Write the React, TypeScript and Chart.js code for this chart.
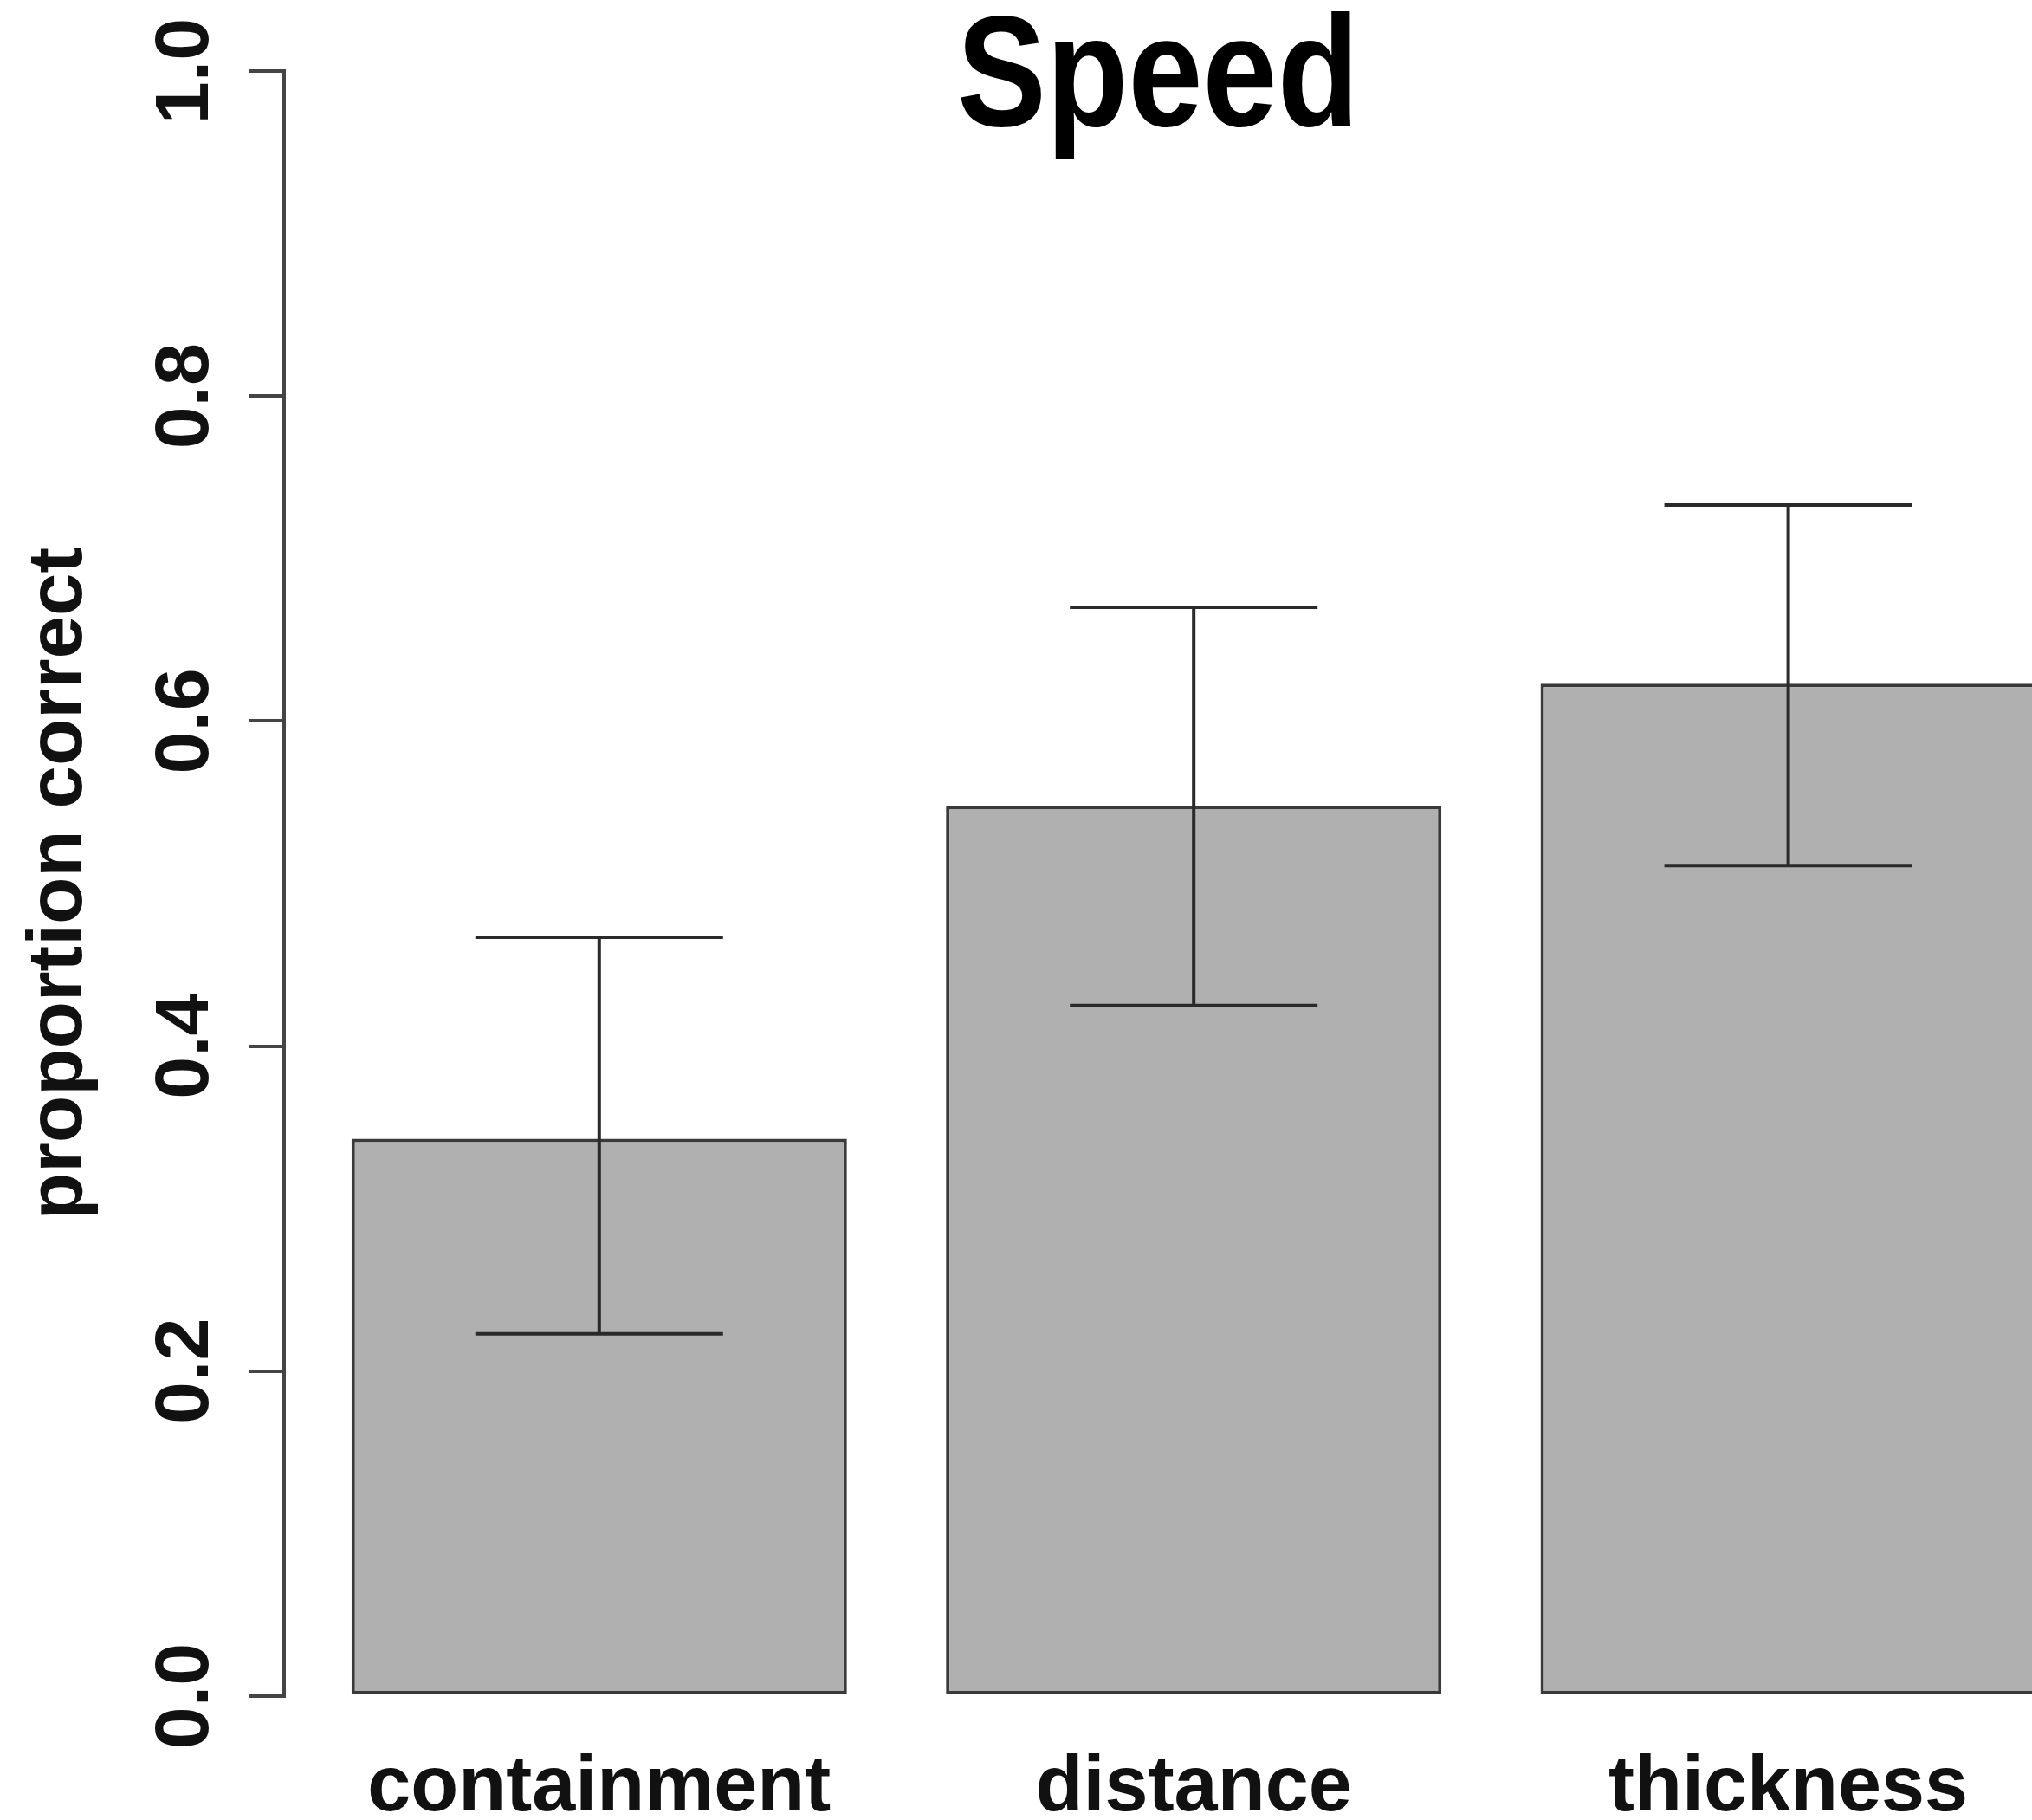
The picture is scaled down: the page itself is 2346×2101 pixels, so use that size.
import React, { useEffect, useRef } from "react";
import { Chart, registerables } from "chart.js";

Chart.register(...registerables);

// ---- data ----
const categories = ["containment", "distance", "thickness"];
const proportionCorrect = [0.343, 0.548, 0.623];
const errorLow = [0.223, 0.425, 0.511];
const errorHigh = [0.467, 0.67, 0.733];
const yTickValues = [0, 0.2, 0.4, 0.6, 0.8, 1.0];
const yTickLabels = ["0.0", "0.2", "0.4", "0.6", "0.8", "1.0"];
const chartTitle = "Speed";
const yAxisTitle = "proportion correct";

// R barplot geometry (width 1, space 0.2)
const BAR_SPACE = 0.2;
const BAR_WIDTH = 1;
const barCenters = categories.map((_, i) => BAR_SPACE + BAR_WIDTH / 2 + i * (BAR_SPACE + BAR_WIDTH));

const FONT = "'Liberation Sans', Arial, Helvetica, sans-serif";

const W = 2346;
const H = 2101;

const customPlugin = {
  id: "rStyleExtras",
  afterDatasetsDraw(chart: any) {
    const { ctx, scales } = chart;
    const xs = scales.x;
    const ys = scales.y;
    ctx.save();
    ctx.strokeStyle = "#2a2a2a";
    ctx.lineWidth = 4;
    ctx.lineCap = "butt";
    for (let i = 0; i < categories.length; i++) {
      const cx = xs.getPixelForValue(barCenters[i]);
      const half = xs.getPixelForValue(barCenters[i] + 0.25) - cx;
      const yl = ys.getPixelForValue(errorLow[i]);
      const yh = ys.getPixelForValue(errorHigh[i]);
      ctx.beginPath();
      ctx.moveTo(cx, yl);
      ctx.lineTo(cx, yh);
      ctx.moveTo(cx - half, yh);
      ctx.lineTo(cx + half, yh);
      ctx.moveTo(cx - half, yl);
      ctx.lineTo(cx + half, yl);
      ctx.stroke();
    }
    ctx.restore();
  },
  afterDraw(chart: any) {
    const { ctx, scales, chartArea } = chart;
    const ys = scales.y;
    ctx.save();
    // rotated y tick labels (R style, parallel to axis)
    ctx.fillStyle = "#111";
    ctx.font = `bold 88px ${FONT}`;
    ctx.textAlign = "center";
    ctx.textBaseline = "alphabetic";
    for (let i = 0; i < yTickValues.length; i++) {
      const y = ys.getPixelForValue(yTickValues[i]);
      ctx.save();
      ctx.translate(240, y);
      ctx.rotate(-Math.PI / 2);
      ctx.fillText(yTickLabels[i], 0, 0);
      ctx.restore();
    }
    // main title (condensed bold)
    ctx.fillStyle = "#000";
    ctx.font = `bold 182px ${FONT}`;
    ctx.textAlign = "center";
    ctx.textBaseline = "alphabetic";
    ctx.translate((chartArea.left + chartArea.right) / 2, 145);
    ctx.scale(0.85, 1);
    ctx.fillText(chartTitle, 0, 0);
    ctx.restore();
  },
};

export default function App() {
  const canvasRef = useRef<HTMLCanvasElement | null>(null);

  useEffect(() => {
    document.body.style.margin = "0";
    document.body.style.overflow = "hidden";
    const canvas = canvasRef.current;
    if (!canvas) return;
    const chart = new Chart(canvas, {
      type: "bar",
      data: {
        datasets: [
          {
            label: "proportion correct",
            data: categories.map((_, i) => ({ x: barCenters[i], y: proportionCorrect[i] })),
            backgroundColor: "#b0b0b0",
            borderColor: "#3a3a3a",
            borderWidth: 4,
            borderSkipped: false,
            categoryPercentage: 1,
            barPercentage: BAR_WIDTH / (BAR_WIDTH + BAR_SPACE),
          },
        ],
      },
      options: {
        responsive: false,
        animation: false,
        devicePixelRatio: 1,
        layout: { padding: { top: 82, left: 0, right: 0, bottom: 0 } },
        plugins: {
          legend: { display: false },
          tooltip: { enabled: false },
          title: { display: false },
        },
        scales: {
          x: {
            type: "linear",
            offset: false,
            min: 0.064,
            max: 3.592,
            grid: { display: false, drawTicks: false, offset: false },
            border: { display: false },
            afterBuildTicks: (scale: any) => {
              scale.ticks = barCenters.map((v) => ({ value: v }));
            },
            afterFit: (scale: any) => {
              scale.height = 143;
            },
            ticks: {
              autoSkip: false,
              maxRotation: 0,
              minRotation: 0,
              padding: 53,
              color: "#111",
              font: { family: FONT, size: 90, weight: "bold", lineHeight: 1.2 },
              callback: (_v: any, index: number) => categories[index],
            },
          },
          y: {
            type: "linear",
            min: 0,
            max: 1,
            afterBuildTicks: (scale: any) => {
              scale.ticks = yTickValues.map((v) => ({ value: v }));
            },
            afterFit: (scale: any) => {
              scale.width = 328;
            },
            grid: {
              drawOnChartArea: false,
              drawTicks: true,
              tickLength: 40,
              lineWidth: 4,
              color: "#444",
            },
            border: { display: true, color: "#444", width: 4 },
            ticks: { display: false },
            title: {
              display: true,
              text: yAxisTitle,
              color: "#111",
              font: { family: FONT, size: 89, weight: "bold", lineHeight: 1.2 },
              padding: { top: 16, bottom: 0 },
            },
          },
        },
      },
      plugins: [customPlugin],
    } as any);
    return () => chart.destroy();
  }, []);

  return (
    <div style={{ position: "absolute", left: 0, top: 0, width: W, height: H, background: "#fff" }}>
      <canvas ref={canvasRef} width={W} height={H} style={{ display: "block" }} />
    </div>
  );
}
